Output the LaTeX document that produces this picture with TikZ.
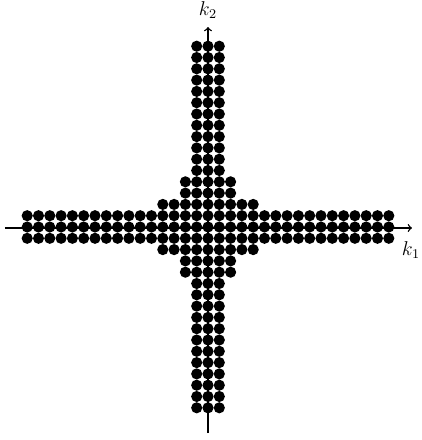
\documentclass[tikz,border=0pt]{standalone}
\usetikzlibrary{arrows.meta}
\begin{document}
\begin{tikzpicture}[x=0.6pt,y=-0.6pt,
  axis/.style={line width=0.8pt,-to},
  dot/.style={fill=black},
  lbl/.style={inner sep=0pt,font=\large}]
\useasboundingbox (0,0) rectangle (422,440);
\coordinate (xs) at (5,228);
\coordinate (xe) at (412,228);
\coordinate (ys) at (208,433);
\coordinate (ye) at (208,27);
\draw[axis] (xs) -- (xe);
\draw[axis] (ys) -- (ye);
\node[lbl] (k1) at (411,250) {$k_1$};
\node[lbl,anchor=north] (k2) at (208,1) {$k_2$};
\foreach \i in {-16,...,16}{
  \foreach \j in {-16,...,16}{
    \pgfmathtruncatemacro{\ai}{abs(\i)}
    \pgfmathtruncatemacro{\aj}{abs(\j)}
    \pgfmathtruncatemacro{\mn}{min(\ai,\aj)}
    \pgfmathtruncatemacro{\mx}{max(\ai,\aj)}
    \pgfmathtruncatemacro{\shw}{(\mn<2) || (\mn<3 && \mx<5)}
    \ifnum\shw=1
      \fill[dot] (208+11.3*\i,227-11.3*\j) circle[radius=3.35pt];
    \fi
  }
}
\end{tikzpicture}
\end{document}
